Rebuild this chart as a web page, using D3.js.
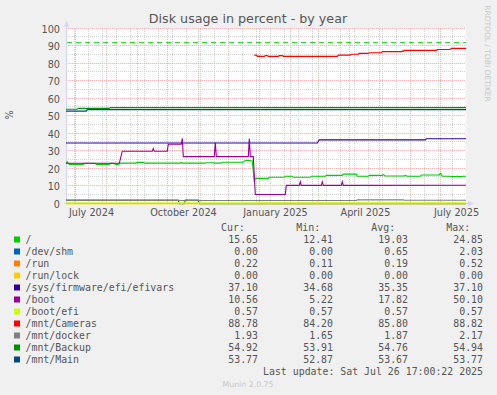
<!DOCTYPE html>
<html><head><meta charset="utf-8">
<script src="https://cdn.jsdelivr.net/npm/d3@7/dist/d3.min.js"></script>
<style>
html,body{margin:0;padding:0;background:#F0F0F0;}
svg{display:block;}
</style></head><body>
<svg id="chart" width="497" height="395"></svg>
<script>
// ---------- data ----------
const chartTitle = "Disk usage in percent - by year";
const yLabel = "%";
const yTicks = [0,10,20,30,40,50,60,70,80,90,100];
const yMinorTicks = [5,15,25,35,45,55,65,75,85,95];
const xTickMonths = ["2024-07-01","2024-10-01","2025-01-01","2025-04-01","2025-07-01"];
const xTickLabels = ["July 2024","October 2024","January 2025","April 2025","July 2025"];
const timeStart = "2024-06-21T17:00Z";
const timeEnd = "2025-07-26T17:00Z";
const warningLevel = 92;

const seriesNames = ["/","/dev/shm","/run","/run/lock","/sys/firmware/efi/efivars","/boot","/boot/efi","/mnt/Cameras","/mnt/docker","/mnt/Backup","/mnt/Main"];
const seriesColors = ["#00CC00","#0066B3","#FF8000","#FFCC00","#330099","#990099","#CCFF00","#FF0000","#808080","#008F00","#00487D"];
const curValues = ["15.65","0.00","0.22","0.00","37.10","10.56","0.57","88.78","1.93","54.92","53.77"];
const minValues = ["12.41","0.00","0.11","0.00","34.68","5.22","0.57","84.20","1.65","53.91","52.87"];
const avgValues = ["19.03","0.65","0.19","0.00","35.35","17.82","0.57","85.80","1.87","54.76","53.67"];
const maxValues = ["24.85","2.03","0.52","0.00","37.10","50.10","0.57","88.82","2.17","54.94","53.77"];
const lastUpdate = "Last update: Sat Jul 26 17:00:22 2025";
const muninVersion = "Munin 2.0.75";
const rrdCredit = "RRDTOOL / TOBI OETIKER";

const rootData = [
 ["2024-06-21T17:00Z",23.1],["2024-06-23",24.0],["2024-06-24",23.1],["2024-06-25",22.5],
 ["2024-07-09",22.5],["2024-07-10",23.1],["2024-07-21",23.1],["2024-07-22",22.5],
 ["2024-08-04",22.5],["2024-08-05",23.1],["2024-08-09",23.1],["2024-08-10",22.5],
 ["2024-08-13",22.5],["2024-08-14",23.2],["2024-08-31",23.2],["2024-09-01",23.6],
 ["2024-09-07",23.6],["2024-09-08",23.2],["2024-10-14",23.2],["2024-10-15",23.6],
 ["2024-10-16",23.2],["2024-11-08",23.2],["2024-11-09",23.4],["2024-11-16",23.4],
 ["2024-11-17",23.2],["2024-11-24",23.2],["2024-11-25",23.7],["2024-12-16",23.7],
 ["2024-12-17",24.4],["2024-12-20",24.85],["2024-12-25",24.4],["2024-12-27",12.41],
 ["2024-12-28",14.5],["2025-01-10",14.5],["2025-01-11",15.1],["2025-01-26",15.1],
 ["2025-01-27",15.7],["2025-02-03",15.7],["2025-02-04",15.1],["2025-02-21",15.1],
 ["2025-02-22",15.7],["2025-03-08",15.7],["2025-03-09",16.2],["2025-03-25",16.2],
 ["2025-03-26",16.9],["2025-04-08",16.9],["2025-04-09",15.7],["2025-04-20",15.7],
 ["2025-04-21",16.2],["2025-05-04",16.2],["2025-05-05",16.6],["2025-05-07",15.8],
 ["2025-05-26",15.8],["2025-05-27",16.2],["2025-05-29",15.7],["2025-06-11",15.7],
 ["2025-06-12",16.4],["2025-06-30",16.4],["2025-07-01",17.4],["2025-07-03",15.7],
 ["2025-07-11",15.7],["2025-07-12",15.45],["2025-07-17",15.45],["2025-07-18",15.8],
 ["2025-07-19",15.45],["2025-07-22",15.45],["2025-07-23",15.7],["2025-07-26T17:00Z",15.65]
];
const devShmData = [
 ["2024-06-21T17:00Z",2.03],["2024-10-12",2.03],["2024-10-13",0.0],["2024-10-18",0.0],
 ["2024-10-19",2.03],["2024-11-01",2.03],["2024-11-02",0.0],["2025-07-26T17:00Z",0.0]
];
const runData = [
 ["2024-06-21T17:00Z",0.15],["2025-01-01",0.15],["2025-01-02",0.22],["2025-07-26T17:00Z",0.22]
];
const runLockData = [["2024-06-21T17:00Z",0.0],["2025-07-26T17:00Z",0.0]];
const efivarsData = [
 ["2024-06-21T17:00Z",34.7],["2025-02-28",34.7],["2025-03-02",36.5],
 ["2025-06-16",36.5],["2025-06-17",37.1],["2025-07-26T17:00Z",37.1]
];
const bootData = [
 ["2024-06-21T17:00Z",23.1],["2024-08-14",23.1],["2024-08-17",30.0],["2024-09-16",30.0],
 ["2024-09-17",31.5],["2024-09-18",30.0],["2024-10-01",30.0],["2024-10-02",34.0],
 ["2024-10-15",34.0],["2024-10-16",37.3],["2024-10-17",26.9],["2024-11-17",26.9],
 ["2024-11-18",35.0],["2024-11-19",26.9],["2024-12-21",26.9],["2024-12-22",37.3],
 ["2024-12-23",26.9],["2024-12-26",26.9],["2024-12-28",5.3],["2025-01-27",5.3],
 ["2025-01-28",10.5],["2025-02-10",10.5],["2025-02-11",12.5],["2025-02-12",10.5],
 ["2025-03-04",10.5],["2025-03-05",12.5],["2025-03-06",10.5],["2025-03-24",10.5],
 ["2025-03-25",12.5],["2025-03-26",10.5],["2025-07-26T17:00Z",10.56]
];
const bootEfiData = [["2024-06-21T17:00Z",0.57],["2025-07-26T17:00Z",0.57]];
const camerasData = [
 ["2024-12-27",84.9],["2024-12-29",84.9],["2024-12-30",84.2],["2025-01-06",84.2],
 ["2025-01-07",84.6],["2025-01-09",84.6],["2025-01-10",84.2],["2025-01-20",84.2],
 ["2025-01-21",84.6],["2025-01-24",84.6],["2025-01-25",84.2],["2025-03-20",84.2],
 ["2025-03-21",84.9],["2025-04-02",84.9],["2025-04-03",85.4],["2025-04-10",85.4],
 ["2025-04-11",85.9],["2025-04-20",85.9],["2025-04-21",86.3],["2025-05-03",86.3],
 ["2025-05-04",86.9],["2025-05-23",86.9],["2025-05-24",87.3],["2025-05-25",87.0],
 ["2025-05-26",87.6],["2025-06-27",87.6],["2025-06-28",88.1],["2025-07-11",88.1],
 ["2025-07-12",88.78],["2025-07-26T17:00Z",88.78]
];
const dockerData = [
 ["2024-06-21T17:00Z",1.85],["2025-04-08",1.85],["2025-04-09",2.17],
 ["2025-05-25",2.17],["2025-05-26",1.93],["2025-07-26T17:00Z",1.93]
];
const backupData = [
 ["2024-06-21T17:00Z",53.95],["2024-07-03",53.95],["2024-07-04",54.5],
 ["2024-08-04",54.5],["2024-08-05",54.92],["2025-07-26T17:00Z",54.92]
];
const mainData = [
 ["2024-06-21T17:00Z",52.9],["2024-07-12",52.9],["2024-07-13",53.77],["2025-07-26T17:00Z",53.77]
];
const seriesData = [rootData,devShmData,runData,runLockData,efivarsData,bootData,bootEfiData,camerasData,dockerData,backupData,mainData];

// ---------- drawing ----------
const svg = d3.select("#chart");
const parse = s => new Date(s);
const t0 = parse(timeStart), t1 = parse(timeEnd);
const plotL = 66, plotR = 466, plotTop = 28.7, plotBot = 203.7;
const x = d3.scaleUtc().domain([t0, t1]).range([plotL, plotR]);
const y = d3.scaleLinear().domain([0, 100]).range([plotBot, plotTop]);
const px = v => Math.round(v) + 0.5;
const py = v => Math.round(v) - 0.5;

svg.append("rect").attr("width",497).attr("height",395).attr("fill","#F0F0F0");
svg.append("rect").attr("x",plotL).attr("y",py(y(100))).attr("width",plotR-plotL).attr("height",py(y(0))-py(y(100))).attr("fill","#FFFFFF");

const grid = svg.append("g").attr("shape-rendering","crispEdges");
// minor grid
const minorDates = [];
for (let d = parse("2024-06-30"); d <= t1; d = d3.utcDay.offset(d, 14)) if (d >= t0) minorDates.push(d);
grid.selectAll("line.vmin").data(minorDates).join("line")
  .attr("x1",d=>px(x(d))).attr("x2",d=>px(x(d))).attr("y1",py(y(100))).attr("y2",py(y(0)))
  .attr("stroke","#D2D2D2").attr("stroke-dasharray","1,1");
grid.selectAll("line.hmin").data(yMinorTicks).join("line")
  .attr("x1",plotL).attr("x2",plotR).attr("y1",v=>py(y(v))).attr("y2",v=>py(y(v)))
  .attr("stroke","#D2D2D2").attr("stroke-dasharray","1,1");
// major grid
const monthDates = d3.utcMonth.range(t0, t1);
grid.selectAll("line.vmaj").data(monthDates).join("line")
  .attr("x1",d=>px(x(d))).attr("x2",d=>px(x(d))).attr("y1",py(y(100))).attr("y2",py(y(0)))
  .attr("stroke","#F0B4B4").attr("stroke-dasharray","1,1");
grid.selectAll("line.hmaj").data(yTicks).join("line")
  .attr("x1",plotL).attr("x2",plotR).attr("y1",v=>py(y(v))).attr("y2",v=>py(y(v)))
  .attr("stroke","#F0B4B4").attr("stroke-dasharray","1,1");

// axes labels via d3 axes
const yAxis = svg.append("g").attr("transform",`translate(${plotL},0)`)
  .call(d3.axisLeft(y).tickValues(yTicks).tickSize(0).tickPadding(6).tickFormat(d3.format("d")));
yAxis.select(".domain").remove();
yAxis.attr("font-family","DejaVu Sans").attr("font-size",9.7);
yAxis.selectAll("text").attr("fill","#555").attr("dy","0.37em");

const labelDates = xTickMonths.map(s => new Date(+parse(s) + 15.7*864e5));
const xAxis = svg.append("g").attr("transform",`translate(0,${plotBot})`)
  .call(d3.axisBottom(x).tickValues(labelDates).tickSize(0).tickPadding(5)
    .tickFormat((d,i)=>xTickLabels[i]));
xAxis.select(".domain").remove();
xAxis.attr("font-family","DejaVu Sans").attr("font-size",9.7);
xAxis.selectAll("text").attr("fill","#555");

// axis lines + arrows
const axisCol = "#CFD6F8";
svg.append("line").attr("x1",plotL+0.5).attr("x2",plotL+0.5).attr("y1",py(y(0))).attr("y2",24).attr("stroke",axisCol);
svg.append("path").attr("d",`M${plotL-2},26.5L${plotL+3},26.5L${plotL+0.5},21Z`).attr("fill",axisCol);
svg.append("line").attr("x1",plotL-2).attr("x2",469).attr("y1",py(y(0))).attr("y2",py(y(0))).attr("stroke",axisCol);
svg.append("path").attr("d",`M468,${py(y(0))-2.5}L468,${py(y(0))+2.5}L473.5,${py(y(0))}Z`).attr("fill",axisCol);

// warning line
svg.append("line").attr("x1",plotL+1).attr("x2",plotR).attr("y1",y(warningLevel)).attr("y2",y(warningLevel))
  .attr("stroke","#00CC00").attr("stroke-width",1).attr("stroke-dasharray","5,4");

// series
const line = d3.line().x(d=>x(parse(d[0]))).y(d=>y(d[1]));
svg.append("g").selectAll("path").data(seriesData).join("path")
  .attr("d", d=>line(d)).attr("fill","none")
  .attr("stroke",(d,i)=>seriesColors[i]).attr("stroke-width",1.1);

// title & side labels
svg.append("text").attr("x",248).attr("y",22.5).attr("text-anchor","middle")
  .attr("font-family","DejaVu Sans").attr("font-size",12.7).attr("fill","#555").text(chartTitle);
svg.append("text").attr("transform","translate(13.3,115) rotate(-90)").attr("text-anchor","middle")
  .attr("font-family","DejaVu Sans").attr("font-size",9.7).attr("fill","#555").text(yLabel);
svg.append("text").attr("transform","translate(484.5,53.5) rotate(90)").attr("text-anchor","middle")
  .attr("font-family","DejaVu Sans").attr("font-size",7.5).attr("fill","#C8C8C8").text(rrdCredit);

// legend
const lg = svg.append("g").attr("font-family","DejaVu Sans Mono").attr("font-size",9.9).attr("fill","#555");
const headers = ["Cur:","Min:","Avg:","Max:"];
const headX = [221,296.3,371.3,446.3];
const colX = [258,333,408,483];
headers.forEach((h,i)=>lg.append("text").attr("x",headX[i]).attr("y",231).text(h));
const cols = [curValues,minValues,avgValues,maxValues];
seriesNames.forEach((name,i)=>{
  const by = 243 + 12*i;
  lg.append("rect").attr("x",14).attr("y",by-6.5).attr("width",6).attr("height",6).attr("fill",seriesColors[i]);
  lg.append("text").attr("x",25.5).attr("y",by).text(name);
  cols.forEach((c,j)=>lg.append("text").attr("x",colX[j]).attr("y",by).attr("text-anchor","end").text(c[i]));
});
lg.append("text").attr("x",483).attr("y",374.5).attr("text-anchor","end").text(lastUpdate);
svg.append("text").attr("x",248).attr("y",387).attr("text-anchor","middle")
  .attr("font-family","DejaVu Sans").attr("font-size",7.8).attr("fill","#C8C8C8").text(muninVersion);
</script>
</body></html>
